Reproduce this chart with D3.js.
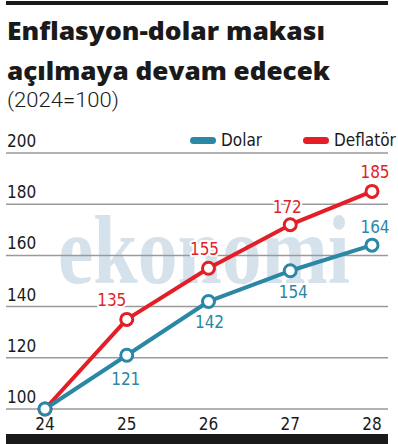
<!DOCTYPE html>
<html>
<head>
<meta charset="utf-8">
<style>
  body { margin: 0; background: #fff; }
  text { font-family: "DejaVu Sans Condensed", "DejaVu Sans", sans-serif; font-stretch: condensed; }
  .title { font-family: "Open Sans", sans-serif; font-stretch: normal; font-weight: 800; font-size: 25px; fill: #1a1a1a; }
  .sub { font-family: Roboto, sans-serif; font-stretch: normal; font-weight: 300; font-size: 20px; fill: #1a1a1a; }
  .tick { font-size: 17px; fill: #1a1a1a; }
  .lbl { font-size: 17px; paint-order: stroke; stroke: #fff; stroke-width: 4px; stroke-linejoin: round; }
</style>
</head>
<body>
<svg id="chart" width="398" height="444"></svg>
<script src="https://d3js.org/d3.v7.min.js"></script>
<script>
// data
const years = [24, 25, 26, 27, 28];
const dolar = [100, 121, 142, 154, 164];
const deflator = [100, 135, 155, 172, 185];
const yTicks = [100, 120, 140, 160, 180, 200];
const red = '#e31e26', blue = '#2a87a6';

const svg = d3.select('#chart');

const x = d3.scaleLinear().domain([24, 28]).range([45, 372]);
const y = d3.scaleLinear().domain([100, 200]).range([409, 153]);

// top and bottom bars
svg.append('rect').attr('x', 6).attr('y', 1).attr('width', 382).attr('height', 4).attr('fill', '#1a1a1a');
svg.append('rect').attr('x', 6).attr('y', 434).attr('width', 382).attr('height', 10).attr('fill', '#1a1a1a');

// titles
svg.append('text').attr('class', 'title').attr('x', 7).attr('y', 40)
  .attr('textLength', 318).attr('lengthAdjust', 'spacingAndGlyphs').text('Enflasyon-dolar makası');
svg.append('text').attr('class', 'title').attr('x', 7).attr('y', 80)
  .attr('textLength', 323).attr('lengthAdjust', 'spacingAndGlyphs').text('açılmaya devam edecek');
svg.append('text').attr('class', 'sub').attr('x', 7).attr('y', 107)
  .attr('textLength', 112).attr('lengthAdjust', 'spacingAndGlyphs').text('(2024=100)');

// watermark
svg.append('text')
  .attr('x', 58).attr('y', 283)
  .attr('textLength', 292).attr('lengthAdjust', 'spacingAndGlyphs')
  .style('font-family', '"Liberation Serif", serif').style('font-stretch', 'normal').style('font-weight', 700)
  .style('font-size', '98px').style('fill', '#d6e2eb')
  .text('ekonomi');

// grid
const grid = svg.append('g');
grid.selectAll('line').data(yTicks).join('line')
  .attr('x1', 6).attr('x2', 388)
  .attr('y1', d => y(d)).attr('y2', d => y(d))
  .attr('stroke', '#9a9a9a').attr('stroke-width', 1.5);
grid.selectAll('text').data(yTicks).join('text')
  .attr('class', 'tick').attr('x', 7).attr('y', d => y(d) - 6).text(d => d);

// x labels
svg.append('g').selectAll('text').data(years).join('text')
  .attr('class', 'tick').attr('text-anchor', 'middle')
  .attr('x', d => x(d)).attr('y', 430).text(d => d);

// legend
const legend = [['Dolar', blue, 190], ['Deflatör', red, 303]];
legend.forEach(([name, c, lx]) => {
  svg.append('rect').attr('x', lx).attr('y', 137).attr('width', 26).attr('height', 7).attr('rx', 3.5).attr('fill', c);
  svg.append('text').attr('class', 'tick').attr('x', lx + 31).attr('y', 146).text(name);
});

const line = d3.line().x((d, i) => x(years[i])).y(d => y(d));

function series(vals, c, offs) {
  svg.append('path').datum(vals).attr('d', line)
    .attr('fill', 'none').attr('stroke', c).attr('stroke-width', 4).attr('stroke-linejoin', 'round');
  svg.append('g').selectAll('circle').data(vals).join('circle')
    .attr('cx', (d, i) => x(years[i])).attr('cy', d => y(d)).attr('r', 6)
    .attr('fill', '#fff').attr('stroke', c).attr('stroke-width', 3);
  svg.append('g').selectAll('text').data(vals.slice(1)).join('text')
    .attr('class', 'lbl').attr('text-anchor', 'middle').attr('fill', c)
    .attr('x', (d, i) => x(years[i + 1]) + offs[i][0])
    .attr('y', (d, i) => y(d) + offs[i][1])
    .text(d => d);
}

series(deflator, red, [[-15, -13], [-4, -13], [-3, -12], [3, -13]]);
series(dolar, blue, [[-1, 30], [1, 27], [3, 27], [3, -12]]);
</script>
</body>
</html>
